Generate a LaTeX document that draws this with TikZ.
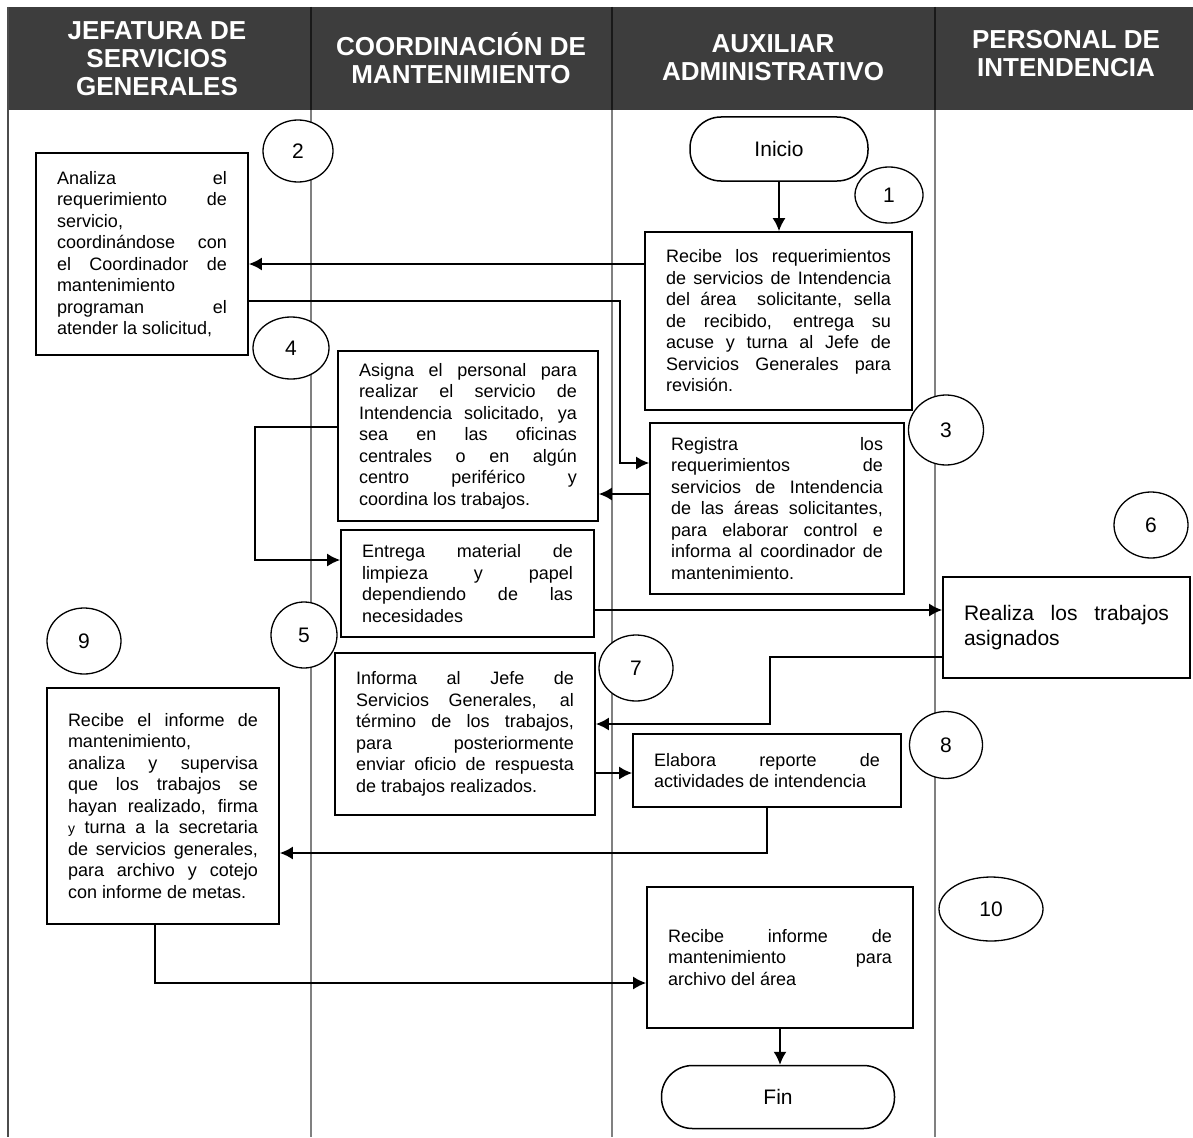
\documentclass[tikz,border=0pt]{standalone}
\usepackage{fontspec}
\setmainfont{Liberation Sans}
\usetikzlibrary{arrows.meta,shapes.geometric}

\begin{document}
\begin{tikzpicture}[x=1pt,y=-1pt,
  >={Latex[length=13pt,width=13pt]},
  paso/.style={draw,line width=1.8pt,fill=white,align=justify,inner xsep=21pt,inner ysep=4pt,
    text width=#1,font=\fontsize{18}{21.5}\selectfont,
    execute at begin node={\tolerance=10000\hbadness=10000\hyphenpenalty=10000}},
  num/.style={ellipse,draw,line width=1.3pt,fill=white,inner sep=0pt,font=\fontsize{21}{21}\selectfont},
  term/.style={draw,line width=1.5pt,fill=white,rounded corners=31pt,font=\fontsize{21}{21}\selectfont},
  flecha/.style={line width=1.6pt,->},
  carril/.style={black!50,line width=1.2pt},
  encab/.style={text=white,align=center,font=\fontsize{26}{28}\selectfont\bfseries}]

\useasboundingbox (0,0) rectangle (1193,1137);

\fill[black!76] (8,7) rectangle (1193,110);
\draw[black!70,line width=1.5pt] (8,7) -- (8,1137);
\foreach \x in {311,612,935} {
  \draw[black!90,line width=1.5pt] (\x,7) -- (\x,110);
  \draw[carril] (\x,110) -- (\x,1137);
}

\node[encab] (h1) at (157,59) {JEFATURA DE\\SERVICIOS\\GENERALES};
\node[encab] (h2) at (461,58) {COORDINACIÓN DE\\MANTENIMIENTO};
\node[encab] (h3) at (773,58) {AUXILIAR\\ADMINISTRATIVO};
\node[encab] (h4) at (1066,54) {PERSONAL DE\\INTENDENCIA};

\node[term,minimum width=178pt,minimum height=64pt] (ini) at (779,149) {Inicio};
\node[term,minimum width=233pt,minimum height=63pt] (fin) at (778,1097) {Fin};

\node[paso=225pt,minimum height=178pt] (b1) at (778.5,321) {Recibe los requerimientos\linebreak de servicios de Intendencia\linebreak del área\ \ solicitante, sella\linebreak de recibido, entrega su\linebreak acuse y turna al Jefe de\linebreak Servicios Generales para\linebreak revisión.};
\node[paso=170pt,minimum height=202pt] (b2) at (142,254) {Analiza el\linebreak requerimiento de\linebreak servicio,\linebreak coordinándose con\linebreak el Coordinador de\linebreak mantenimiento\linebreak programan el\linebreak atender la solicitud,};
\node[paso=212pt,minimum height=171pt] (b3) at (777,508.5) {Registra los\linebreak requerimientos de\linebreak servicios de Intendencia\linebreak de las áreas solicitantes,\linebreak para elaborar control e\linebreak informa al coordinador de\linebreak mantenimiento.};
\node[paso=218pt,minimum height=170pt] (b4) at (468,436) {Asigna el personal para\linebreak realizar el servicio de\linebreak Intendencia solicitado, ya\linebreak sea en las oficinas\linebreak centrales o en algún\linebreak centro periférico y\linebreak coordina los trabajos.};
\node[paso=211pt,minimum height=107pt] (b5) at (467.5,583.5) {Entrega material de\linebreak limpieza y papel\linebreak dependiendo de las\linebreak necesidades};
\node[paso=205pt,minimum height=101pt,font=\fontsize{21}{25}\selectfont] (b6) at (1066.5,627.5) {Realiza los trabajos\linebreak asignados};
\node[paso=218pt,minimum height=162pt] (b7) at (465,734) {Informa al Jefe de\linebreak Servicios Generales, al\linebreak término de los trabajos,\linebreak para posteriormente\linebreak enviar oficio de respuesta\linebreak de trabajos realizados.};
\node[paso=226pt,minimum height=73pt] (b8) at (767,770.5) {Elabora reporte de\linebreak actividades de intendencia};
\node[paso=190pt,minimum height=236pt] (b9) at (163,806) {Recibe el informe de\linebreak mantenimiento,\linebreak analiza y supervisa\linebreak que los trabajos se\linebreak hayan realizado, firma\linebreak {\fontsize{14}{14}\selectfont y} turna a la secretaria\linebreak de servicios generales,\linebreak para archivo y cotejo\linebreak con informe de metas.};
\node[paso=224pt,minimum height=141pt] (b10) at (780,957.5) {Recibe informe de\linebreak mantenimiento para\linebreak archivo del área};

\node[num,minimum width=68pt,minimum height=56pt] (n1) at (889,195) {1};
\node[num,minimum width=70pt,minimum height=62pt] (n2) at (298,151) {2};
\node[num,minimum width=75pt,minimum height=70pt] (n3) at (946,430) {3};
\node[num,minimum width=76pt,minimum height=62pt] (n4) at (291,348) {4};
\node[num,minimum width=66pt,minimum height=66pt] (n5) at (304,635) {5};
\node[num,minimum width=74pt,minimum height=66pt] (n6) at (1151,525) {6};
\node[num,minimum width=74pt,minimum height=66pt] (n7) at (636,668) {7};
\node[num,minimum width=73pt,minimum height=67pt] (n8) at (946,745) {8};
\node[num,minimum width=74pt,minimum height=66pt] (n9) at (84,641) {9};
\node[num,minimum width=104pt,minimum height=64pt] (n10) at (991,909) {10};

\draw[flecha] (ini.south) -- (ini.south |- b1.north);
\draw[flecha] (b1.west |- 0,264) -- (b2.east |- 0,264);
\draw[flecha] (b2.east |- 0,301) -- (620,301) -- (620,463) -- (b3.west |- 0,463);
\draw[flecha] (b3.west |- 0,494) -- (b4.east |- 0,494);
\draw[flecha] (b4.west |- 0,427) -- (255,427) -- (255,560) -- (b5.west |- 0,560);
\draw[flecha] (b5.east |- 0,610) -- (b6.west |- 0,610);
\draw[flecha] (b6.west |- 0,657) -- (770,657) -- (770,724) -- (b7.east |- 0,724);
\draw[flecha] (b7.east |- 0,773) -- (b8.west |- 0,773);
\draw[flecha] (b8.south) |- (b9.east |- 0,853);
\draw[flecha] (b9.south -| 155,0) |- (b10.west |- 0,983);
\draw[flecha] (b10.south) -- (b10.south |- fin.north);
\end{tikzpicture}
\end{document}
